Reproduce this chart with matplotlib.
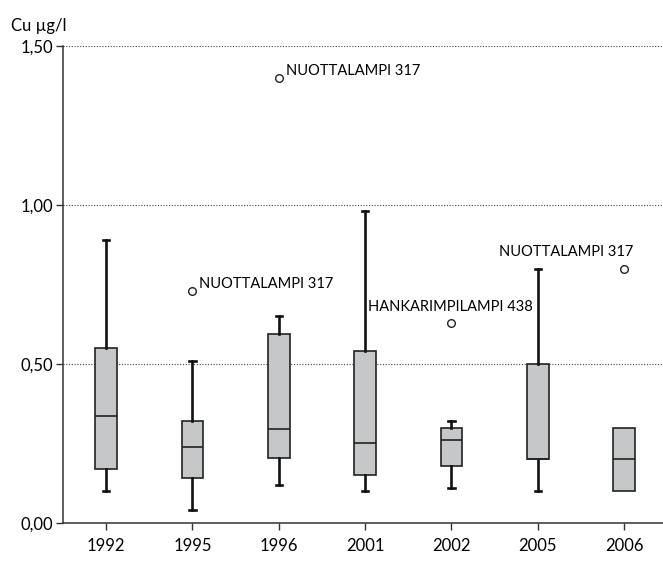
import matplotlib
matplotlib.use("Agg")
import matplotlib.pyplot as plt

plt.rcParams['font.family'] = ['Lato', 'DejaVu Sans']

years = ["1992", "1995", "1996", "2001", "2002", "2005", "2006"]
whislo = [0.10, 0.04, 0.12, 0.10, 0.11, 0.10, 0.10]
q1 = [0.17, 0.14, 0.205, 0.15, 0.18, 0.20, 0.10]
med = [0.335, 0.24, 0.295, 0.25, 0.26, 0.20, 0.20]
q3 = [0.55, 0.32, 0.595, 0.54, 0.30, 0.50, 0.30]
whishi = [0.89, 0.51, 0.65, 0.98, 0.32, 0.80, 0.30]
fliers = [[], [0.73], [1.40], [], [0.63], [], [0.80]]

# outlier labels: (box index, value, text)
flier_labels = [
    (1, 0.73, "NUOTTALAMPI 317"),
    (2, 1.40, "NUOTTALAMPI 317"),
    (4, 0.63, "HANKARIMPILAMPI 438"),
    (6, 0.80, "NUOTTALAMPI 317"),
]

yticks = [0.0, 0.5, 1.0, 1.5]
ytick_labels = ["0,00", "0,50", "1,00", "1,50"]


def main():
    fig = plt.figure(figsize=(6.63, 5.62), dpi=100)
    ax = fig.add_axes([0.095, 0.0694, 0.905, 0.849])

    stats = []
    for i in range(len(years)):
        stats.append(dict(whislo=whislo[i], q1=q1[i], med=med[i], q3=q3[i],
                          whishi=whishi[i], fliers=fliers[i]))

    bp = ax.bxp(stats, positions=range(len(years)), widths=0.25, patch_artist=True,
                capwidths=0.07,
                boxprops=dict(facecolor="#c6c7c8", edgecolor="#222222", linewidth=1.2),
                medianprops=dict(color="#222222", linewidth=1.2),
                whiskerprops=dict(color="#111111", linewidth=1.9),
                capprops=dict(color="#111111", linewidth=1.9),
                flierprops=dict(marker="o", markersize=5.5, markerfacecolor="white",
                                markeredgecolor="#222222", markeredgewidth=1.0))

    # boxes without whiskers get no caps
    for i in range(len(years)):
        if whislo[i] == q1[i]:
            bp["caps"][2 * i].set_visible(False)
        if whishi[i] == q3[i]:
            bp["caps"][2 * i + 1].set_visible(False)

    for y in yticks[1:]:
        ax.axhline(y, color="#444444", linewidth=0.8, linestyle=(0, (1, 1.5)), zorder=0)

    for i, v, txt in flier_labels:
        if i == 4:
            ax.annotate(txt, (i, v), xytext=(-1, 6), textcoords="offset points",
                        ha="center", va="bottom", fontsize=10.5)
        elif i == 6:
            ax.annotate(txt, (i, v), xytext=(7, 7), textcoords="offset points",
                        ha="right", va="bottom", fontsize=10.5)
        else:
            ax.annotate(txt, (i, v), xytext=(5, 0), textcoords="offset points",
                        ha="left", va="bottom", fontsize=10.5)

    ax.set_xlim(-0.5, 6.45)
    ax.set_ylim(0, 1.5)
    ax.set_yticks(yticks)
    ax.set_yticklabels(ytick_labels, fontsize=12)
    ax.set_xticks(range(len(years)))
    ax.set_xticklabels(years, fontsize=12)
    ax.tick_params(axis="both", direction="out", length=5, width=1, color="#333333")
    ax.tick_params(axis="x", pad=6)
    ax.tick_params(axis="y", pad=2)

    for s in ["top", "right"]:
        ax.spines[s].set_visible(False)
    for s in ["left", "bottom"]:
        ax.spines[s].set_color("#333333")
        ax.spines[s].set_linewidth(1.1)

    fig.text(0.017, 0.944, "Cu µg/l", fontsize=12, ha="left", va="baseline")

    fig.savefig("out.png", dpi=100)


if __name__ == "__main__":
    main()
